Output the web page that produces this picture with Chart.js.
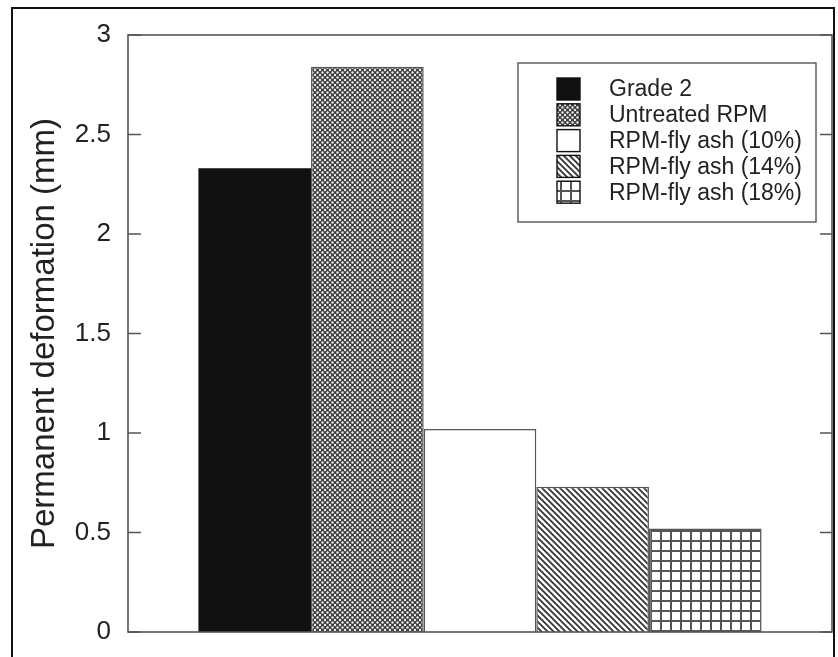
<!DOCTYPE html>
<html>
<head>
<meta charset="utf-8">
<script src="https://cdn.jsdelivr.net/npm/chart.js@4.4.1/dist/chart.umd.min.js"></script>
<style>
  html, body { margin: 0; padding: 0; background: #fff; }
  #wrap { position: relative; width: 838px; height: 657px; }
  #frame { position: absolute; left: 11px; top: 7px; width: 824px; height: 660px; border: 2px solid #111; box-sizing: border-box; pointer-events: none; }
</style>
</head>
<body>
<div id="wrap">
  <canvas id="chart" width="838" height="657"></canvas>
  <div id="frame"></div>
</div>
<script>
// Permanent deformation chart
const seriesNames = [
  'Grade 2',
  'Untreated RPM',
  'RPM-fly ash (10%)',
  'RPM-fly ash (14%)',
  'RPM-fly ash (18%)'
];
const seriesValues = [2.33, 2.84, 1.02, 0.73, 0.52];
const yTicks = [0, 0.5, 1, 1.5, 2, 2.5, 3];
const yTitle = 'Permanent deformation (mm)';

const fontFamily = "'Liberation Sans', Arial, Helvetica, sans-serif";

// hatch patterns
function makeTile(size, draw) {
  const c = document.createElement('canvas');
  c.width = size;
  c.height = size;
  const g = c.getContext('2d');
  g.fillStyle = '#fff';
  g.fillRect(0, 0, size, size);
  draw(g, size);
  return c.getContext('2d').createPattern(c, 'repeat');
}

const dotsPattern = makeTile(5, (g, s) => {
  g.fillStyle = '#3c3c3c';
  g.fillRect(0, 0, s, s);
  g.fillStyle = '#eee';
  [[0, 0], [s, 0], [0, s], [s, s], [s / 2, s / 2]].forEach(([x, y]) => {
    g.beginPath();
    g.arc(x, y, 1.2, 0, Math.PI * 2);
    g.fill();
  });
});

const diagPattern = makeTile(6, (g, s) => {
  g.strokeStyle = '#333';
  g.lineWidth = 1.8;
  g.beginPath();
  g.moveTo(-1, -1); g.lineTo(s + 1, s + 1);
  g.moveTo(-1, s - 1); g.lineTo(1, s + 1);
  g.moveTo(s - 1, -1); g.lineTo(s + 1, 1);
  g.stroke();
});

const gridPattern = makeTile(10, (g, s) => {
  g.fillStyle = '#555';
  g.fillRect(0, 0, 2, s);
  g.fillRect(0, 0, s, 2);
});

const fills = ['#111', dotsPattern, '#fff', diagPattern, gridPattern];

const datasets = seriesNames.map((name, i) => ({
  label: name,
  data: [seriesValues[i]],
  backgroundColor: fills[i],
  borderColor: '#555',
  borderWidth: i === 0 ? 0 : 1.5,
  categoryPercentage: 0.8,
  barPercentage: 1.0
}));

// frame, inward ticks, legend box
const framePlugin = {
  id: 'framePlugin',
  afterDatasetsDraw(chart) {
    const { ctx, chartArea: a, scales } = chart;
    const y = scales.y;
    ctx.save();
    ctx.strokeStyle = '#555';
    ctx.lineWidth = 1.6;
    ctx.strokeRect(a.left, a.top, a.right - a.left, a.bottom - a.top);
    ctx.beginPath();
    yTicks.forEach(v => {
      const py = y.getPixelForValue(v);
      ctx.moveTo(a.left, py); ctx.lineTo(a.left + 13, py);
      ctx.moveTo(a.right, py); ctx.lineTo(a.right - 12, py);
    });
    ctx.stroke();

    // legend
    const bx = 518, by = 63, bw = 298, bh = 159;
    ctx.fillStyle = '#fff';
    ctx.fillRect(bx, by, bw, bh);
    ctx.strokeStyle = '#555';
    ctx.lineWidth = 1.4;
    ctx.strokeRect(bx, by, bw, bh);
    ctx.font = '23px ' + fontFamily;
    ctx.textBaseline = 'middle';
    chart.data.datasets.forEach((ds, i) => {
      const cy = 89 + i * 25.8;
      ctx.fillStyle = ds.backgroundColor;
      ctx.fillRect(557, cy - 11, 23, 22);
      ctx.strokeStyle = '#111';
      ctx.lineWidth = 1.4;
      ctx.strokeRect(557, cy - 11, 23, 22);
      ctx.fillStyle = '#222';
      ctx.fillText(ds.label, 609, cy + 1);
    });
    ctx.restore();
  }
};

const config = {
  type: 'bar',
  data: {
    labels: [''],
    datasets: datasets
  },
  options: {
    responsive: false,
    animation: false,
    layout: {
      padding: { top: 35, right: 6, bottom: 25, left: 0 }
    },
    plugins: {
      legend: { display: false },
      tooltip: { enabled: false }
    },
    scales: {
      x: {
        display: false
      },
      y: {
        min: 0,
        max: 3,
        afterFit(scale) { scale.width = 128; },
        afterBuildTicks(scale) { scale.ticks = yTicks.map(v => ({ value: v })); },
        grid: { display: false },
        border: { display: false },
        ticks: {
          padding: 9,
          color: '#222',
          font: { family: fontFamily, size: 26 },
          callback: v => String(v)
        },
        title: {
          display: true,
          text: yTitle,
          color: '#222',
          padding: { top: 25, bottom: 0 },
          font: { family: fontFamily, size: 33 }
        }
      }
    }
  },
  plugins: [framePlugin]
};

const chart = new Chart(document.getElementById('chart'), config);
</script>
</body>
</html>
